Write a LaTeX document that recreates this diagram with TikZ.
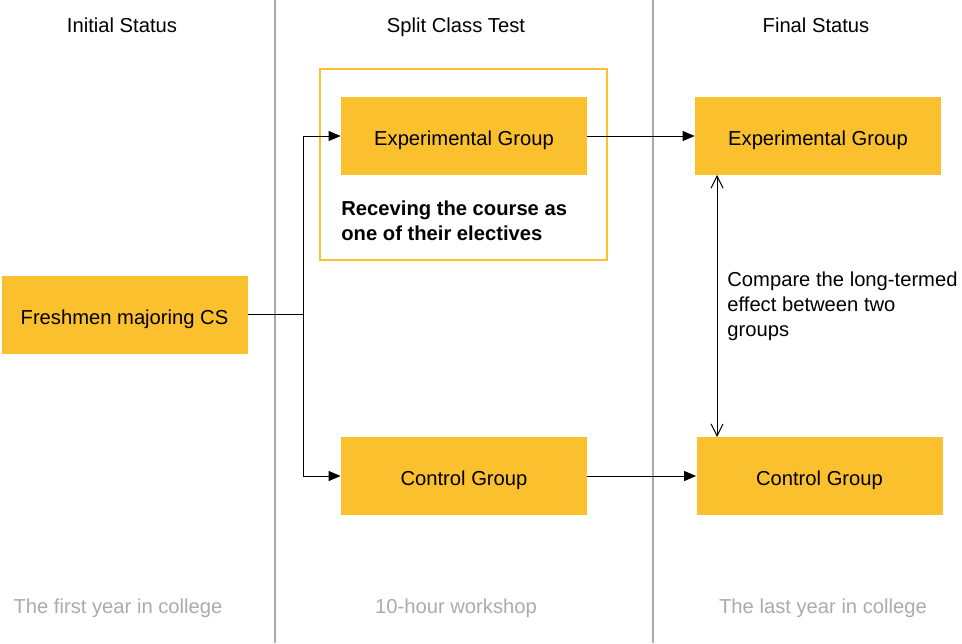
\documentclass[tikz,border=0pt]{standalone}
\usepackage{fontspec}
\setmainfont{Liberation Sans}
\usetikzlibrary{arrows.meta}
\definecolor{grporange}{HTML}{FBC02D}
\definecolor{sepgray}{HTML}{AAAAAA}
\definecolor{notegray}{HTML}{ABABAB}
\begin{document}
\begin{tikzpicture}[x=0.5pt, y=-0.5pt,
  every node/.style={font=\fontsize{10.1}{12.5}\selectfont},
  group/.style={fill=grporange, minimum width=123pt, minimum height=39pt, inner sep=0pt, text height=0.95em, text depth=0pt},
  note/.style={text=notegray, anchor=base},
  head/.style={anchor=base},
  sep/.style={draw=sepgray, line width=0.6pt},
  flow/.style={-{Triangle[length=6pt, width=5pt]}, line width=0.5pt},
  cmp/.style={{Straight Barb[length=6pt, width=6pt]}-{Straight Barb[length=6pt, width=6pt]}, line width=0.5pt}]
\useasboundingbox (0, 0) rectangle (962, 643);
% columns
\draw [sep] (275, 0) -- (275, 643);
\draw [sep] (653, 0) -- (653, 643);
\node at (122, 32) [head] (h1) {Initial Status};
\node at (456, 32) [head] (h2) {Split Class Test};
\node at (816, 32) [head] (h3) {Final Status};
\node at (118, 613) [note] (f1) {The first year in college};
\node at (456, 613) [note] (f2) {10-hour workshop};
\node at (823, 613) [note] (f3) {The last year in college};
% boxes
\node at (124.5, 314.5) [group] (fresh) {Freshmen majoring CS};
\node at (463.5, 164.5) [draw=grporange, line width=0.8pt, minimum width=143.5pt, minimum height=95.5pt] (course) {};
\node at (464, 136) [group] (exp1) {Experimental Group};
\node at (341, 200) [anchor=north west, inner sep=0pt, align=left, font=\fontsize{10.1}{12.5}\selectfont\bfseries] (elect) {Receving the course as\\one of their electives};
\node at (464, 476) [group] (ctrl1) {Control Group};
\node at (818, 136) [group] (exp2) {Experimental Group};
\node at (819.5, 476) [group] (ctrl2) {Control Group};
\coordinate (fork) at (303, 314.5);
\node at (727, 271) [anchor=north west, inner sep=0pt, align=left] (compare) {Compare the long-termed\\effect between two\\groups};
% connectors
\draw [line width=0.5pt] (fresh.east) -- (fork);
\draw [flow] (fork) |- (exp1.west);
\draw [flow] (fork) |- (ctrl1.west);
\draw [flow] (exp1.east) -- (exp2.west);
\draw [flow] (ctrl1.east) -- (ctrl2.west);
\draw [cmp] (717, 175) -- (717, 437);
\end{tikzpicture}
\end{document}
